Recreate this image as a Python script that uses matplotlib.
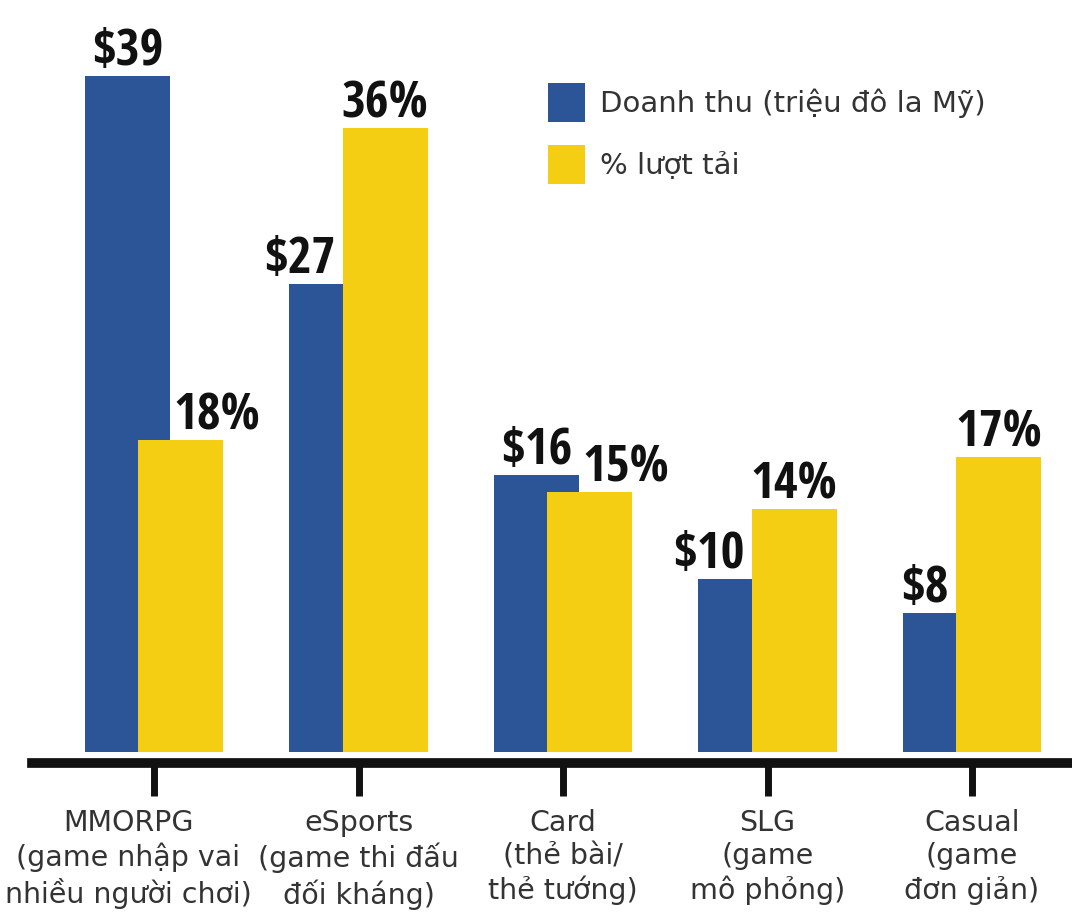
import matplotlib
matplotlib.use("Agg")
import matplotlib.pyplot as plt
from matplotlib.transforms import offset_copy, ScaledTranslation

categories = ["MMORPG", "eSports", "Card", "SLG", "Casual"]
subtitles = ["(game nhập vai\nnhiều người chơi)", "(game thi đấu\nđối kháng)",
             "(thẻ bài/\nthẻ tướng)", "(game\nmô phỏng)", "(game\nđơn giản)"]
revenue = [39, 27, 16, 10, 8]
downloads = [18, 36, 15, 14, 17]
legend_labels = ["Doanh thu (triệu đô la Mỹ)", "% lượt tải"]

BLUE = "#2B5597"
YELLOW = "#F4CE12"
TEXT = "#333333"
NUM_FONT = ["Liberation Sans Narrow", "Open Sans Condensed", "DejaVu Sans"]

W, H, DPI = 1072, 914, 100
fig = plt.figure(figsize=(W / DPI, H / DPI), dpi=DPI)
bottom_px = 752
ax = fig.add_axes([0, (H - bottom_px) / H, 1, bottom_px / H])

spacing = 204.5
x0 = 154
xs = list(range(len(categories)))
ax.set_xlim(-x0 / spacing, (W - x0) / spacing)
ax.set_ylim(0, bottom_px / 17.33)

off = 0.13
bw = 0.416
ax.bar([x - off for x in xs], revenue, width=bw, color=BLUE, zorder=2,
       label=legend_labels[0])
ax.bar([x + off for x in xs], downloads, width=bw, color=YELLOW, zorder=3,
       label=legend_labels[1])

for spine in ["left", "right", "top"]:
    ax.spines[spine].set_visible(False)
ax.spines["bottom"].set_position(("outward", 8))
ax.spines["bottom"].set_linewidth(7)
ax.spines["bottom"].set_color("#111111")
ax.spines["bottom"].set_bounds(-(x0 - 32) / spacing, (W - x0) / spacing)
ax.set_yticks([])
ax.set_xticks(xs)
ax.tick_params(axis="x", direction="out", length=24, width=5, color="#111111", pad=9)
ax.set_xticklabels([c + "\n" + s for c, s in zip(categories, subtitles)],
                   fontsize=20.5, color=TEXT, linespacing=1.24,
                   family=["DejaVu Sans"])
first = ax.get_xticklabels()[0]
first.set_transform(first.get_transform()
                    + ScaledTranslation(-26 / DPI, 0, fig.dpi_scale_trans))

for i, (r, d) in enumerate(zip(revenue, downloads)):
    bx = i - off
    yx = i + off
    lab_kw = dict(fontsize=37, fontweight="bold", family=NUM_FONT,
                  fontstretch="condensed", color="#111111", va="baseline", zorder=5)
    tr_up = offset_copy(ax.transData, fig=fig, x=0, y=11, units="dots")
    if r >= d:
        ax.text(bx, r, f"${r}", ha="center", transform=tr_up, **lab_kw)
        tr = offset_copy(ax.transData, fig=fig, x=4, y=11, units="dots")
        ax.text(bx + bw / 2, d, f"{d}%", ha="left", transform=tr, **lab_kw)
    else:
        tr = offset_copy(ax.transData, fig=fig, x=-7, y=11, units="dots")
        ax.text(yx - bw / 2, r, f"${r}", ha="right", transform=tr, **lab_kw)
        ax.text(yx, d, f"{d}%", ha="center", transform=tr_up, **lab_kw)

fs_leg = 21
leg = ax.legend(loc="upper left", bbox_to_anchor=(548 / W, 1 - 83 / H),
                bbox_transform=fig.transFigure, frameon=False, fontsize=fs_leg,
                handlelength=1.27, handleheight=1.68, handletextpad=0.5,
                labelspacing=0.78, borderpad=0, borderaxespad=0)
for t in leg.get_texts():
    t.set_color(TEXT)

fig.savefig("out.png", dpi=DPI)
